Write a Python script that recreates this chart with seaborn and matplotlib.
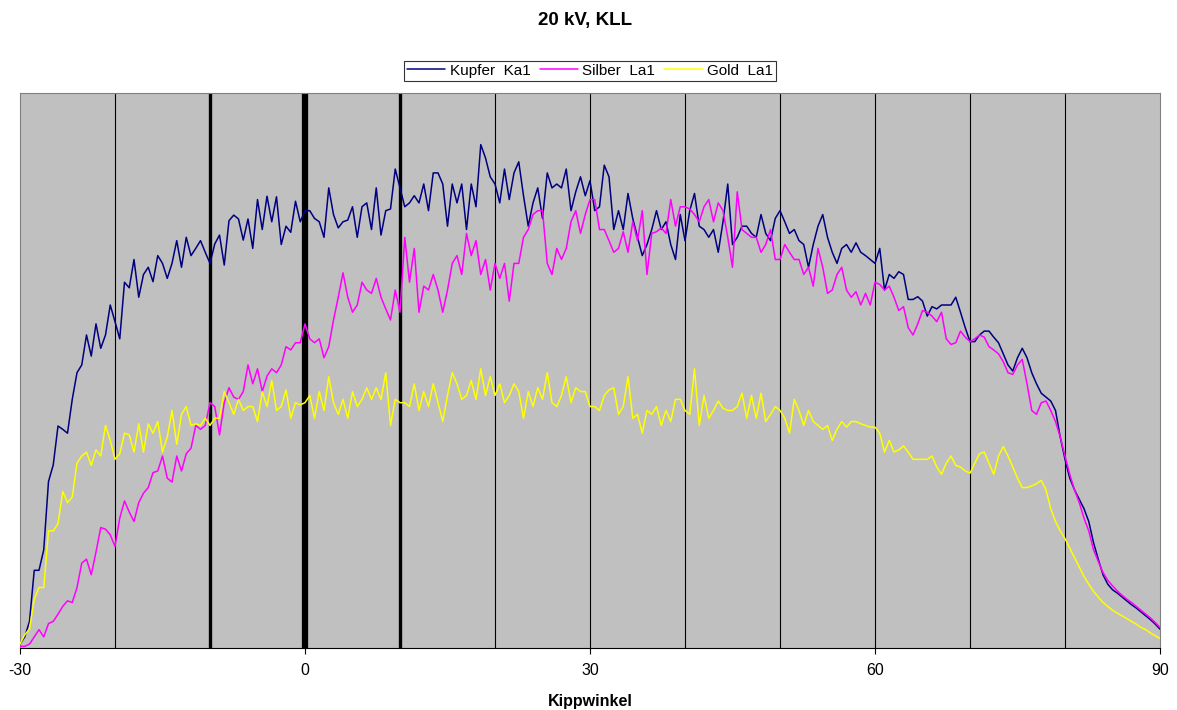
import numpy as np
import pandas as pd
import seaborn as sns
import matplotlib.pyplot as plt

# tilt angle grid, 0.5 degree steps
winkel = np.arange(-30, 90.5, 0.5)

kupfer = [
    0.7, 2, 4.8, 14, 14, 17.7, 30, 33, 40, 39.4,
    38.7, 44.8, 49.6, 51, 56.4, 52.6, 58.4, 54, 56.4, 61.8,
    58.8, 55.7, 65.9, 64.9, 70, 63.2, 67.3, 68.6, 66, 70.7,
    69.3, 66.6, 69.3, 73.4, 68.6, 74, 70.7, 72, 73.4, 71.3,
    69.3, 72.8, 74.4, 69, 77, 78, 77.3, 73.5, 77.3, 72,
    80.8, 75.4, 81.4, 76.8, 81.3, 72.7, 76, 74.9, 80.5, 76.8,
    78.8, 78.8, 77.4, 76.8, 74, 82.9, 78.1, 75.7, 76.8, 77.1,
    79.5, 74, 79.5, 80.2, 75.4, 82.9, 74.4, 78.8, 79.1, 86.3,
    82.9, 79.5, 80.2, 81.5, 80.2, 83.6, 78.8, 85.6, 85.6, 83.6,
    76, 83.6, 80.2, 83.6, 75.4, 83.6, 79.5, 90.7, 88.3, 84.9,
    83.6, 80.2, 86.3, 80.8, 85.6, 87.6, 81.5, 76, 80.2, 82.9,
    77.4, 85.6, 82.9, 83.6, 82.9, 86.3, 78.8, 82.2, 84.9, 81.5,
    84.2, 78.8, 79.5, 87, 84.9, 75.4, 78.8, 75.4, 81.9, 77.4,
    74, 70.7, 72.7, 75.4, 78.8, 75.4, 76.8, 72.7, 70, 78.1,
    73.4, 78.8, 81.9, 76, 75.4, 74, 75.4, 71.3, 76.8, 83.6,
    72.7, 74, 76, 76, 74.7, 74, 78.1, 74.7, 73.4, 77.4,
    78.8, 76.8, 74.7, 75.4, 73.4, 72.7, 68.6, 72.7, 76, 78.1,
    74, 71.3, 69.3, 72, 72.7, 71.3, 73, 71.3, 70.7, 70,
    69.3, 72, 64.5, 67.3, 66.6, 67.8, 67.3, 62.8, 62.8, 63.3,
    62.5, 59.8, 61.5, 61.1, 61.8, 61.8, 61.8, 63.2, 60.5, 57.7,
    55.2, 55.2, 56.4, 57.1, 57.1, 56, 55, 53, 51, 49.9,
    52.3, 54, 52.3, 49.6, 47.6, 45.9, 45.2, 44.5, 42.8, 38,
    34, 30.6, 28.5, 26.8, 25.1, 22.8, 19, 16, 13.2, 11.5,
    10.5, 9.9, 9.2, 8.5, 7.8, 7.2, 6.5, 5.8, 5.1, 4.3,
    3.4,
]

silber = [
    0.3, 0.3, 0.7, 2, 3.3, 2, 4.4, 4.8, 6.1, 7.5,
    8.5, 8.2, 10.9, 15.3, 16, 13.2, 17.3, 21.7, 21.4, 20.4,
    18.3, 23.4, 26.5, 24.5, 22.8, 26.2, 27.9, 28.9, 31.6, 31.9,
    34.6, 30.6, 29.9, 34.6, 31.9, 35, 36, 40.1, 39.4, 40.1,
    44.2, 43.5, 38.4, 44.2, 46.9, 45.2, 44.8, 46.2, 51, 47.6,
    50.3, 46.2, 49, 50.3, 49.6, 51, 54.3, 53.7, 55, 55,
    58.4, 55.7, 55, 55.7, 52.3, 54.3, 59.1, 63.2, 67.6, 63.2,
    60.5, 61.8, 65.9, 64.5, 63.9, 66.6, 63.2, 61.1, 59.1, 64.5,
    60.5, 74, 65.9, 72, 60.5, 65.2, 64.5, 67.3, 64.5, 60.5,
    64.5, 69.3, 70.7, 67.3, 74.7, 70.7, 73.4, 67.3, 70, 64.5,
    69.3, 66.6, 69.3, 62.5, 69.3, 69.3, 74, 75.4, 78.1, 78.8,
    78.8, 69.3, 67.3, 72, 70, 72, 76.8, 78.8, 74.7, 78.1,
    80.8, 80.8, 75.4, 75.4, 73.4, 71.3, 72, 75, 71.3, 76.8,
    73.4, 78.8, 67.3, 74.7, 75, 75.7, 74.7, 80.8, 76, 79.5,
    79.5, 79.1, 78.1, 76.8, 79.5, 80.8, 76.8, 80.2, 78.8, 74,
    68.6, 82.2, 75.4, 74.7, 74, 74, 71.3, 72.7, 75.4, 70,
    70, 72.7, 71.3, 70, 70, 67.3, 68.6, 65.2, 72, 68.6,
    63.9, 64.5, 67.3, 68.6, 64.5, 63.2, 64.2, 61.8, 63.9, 61.8,
    65.9, 65.5, 64.5, 65.2, 63.2, 60.8, 61.5, 57.7, 56.4, 58.4,
    60.8, 60.5, 59.8, 58.8, 60.5, 55.7, 54.7, 55, 57.1, 56,
    55.2, 55.7, 56.4, 56, 54.3, 53.7, 53, 51.6, 49.6, 49.3,
    51, 52, 47.6, 42.8, 42.1, 44.2, 44.5, 42.8, 40.8, 38,
    34.6, 31.3, 28.5, 26.2, 23.4, 21.1, 17.7, 15.6, 13.6, 12.2,
    11.2, 10.3, 9.5, 8.8, 8.2, 7.5, 6.8, 6.1, 5.4, 4.6,
    3.7,
]

gold = [
    0.7, 2.4, 3.4, 8.8, 10.9, 10.9, 21.1, 21.1, 22.4, 28.2,
    26.2, 27.2, 33.3, 34.6, 35.3, 32.9, 35.7, 34.6, 40.1, 37.4,
    34, 35, 38.7, 38.4, 35.3, 40.4, 35.3, 40.4, 38.7, 40.8,
    35.3, 38, 42.8, 36.7, 42.1, 43.5, 40.1, 40.4, 40.1, 41.4,
    40.1, 41.4, 41.4, 46.2, 44.2, 42.1, 44.8, 42.8, 43.5, 43.5,
    40.8, 46.2, 43.5, 48.2, 42.8, 43.5, 46.5, 41.4, 44.2, 43.8,
    44.2, 45.5, 41.4, 46.2, 42.8, 48.9, 44.2, 42.1, 44.8, 41.4,
    46.2, 43.5, 44.8, 46.9, 44.8, 46.9, 44.8, 49.6, 40.1, 44.8,
    44.2, 44.2, 43.5, 47.6, 42.8, 46.2, 43.5, 47.6, 44.2, 40.8,
    45.5, 49.6, 47.6, 44.8, 45.5, 48.2, 44.8, 50.3, 45.5, 48.9,
    45.5, 47.6, 44.2, 45.5, 47.6, 46.2, 41.4, 46.2, 43.5, 46.9,
    44.8, 49.6, 44.2, 43.5, 45.5, 48.9, 44.2, 46.9, 46.2, 46.2,
    43.5, 43.5, 42.8, 45.5, 46.5, 46.9, 42.1, 43.5, 48.9, 41.4,
    42.1, 38.7, 42.8, 42.1, 43.5, 40.1, 42.8, 40.8, 44.8, 44.8,
    42.8, 42.1, 50.3, 40.1, 45.5, 41.4, 42.8, 44.5, 43.2, 42.8,
    42.8, 43.5, 45.9, 41.4, 45.5, 41.4, 45.9, 40.8, 42.1, 43.5,
    42.8, 41.4, 38.7, 44.8, 42.8, 40.1, 42.8, 40.8, 40.1, 39.4,
    40.1, 37.4, 39.4, 40.8, 39.8, 40.8, 40.8, 40.4, 40.1, 39.8,
    39.8, 38.7, 35.3, 37.4, 35.3, 35.7, 36.4, 35.3, 34, 34,
    34, 34, 34.6, 32.6, 31.3, 33.3, 34.6, 32.9, 32.6, 31.9,
    31.5, 33.3, 35, 35.3, 33.3, 31.3, 34.6, 36.3, 34.6, 32.6,
    30.6, 28.9, 28.9, 29.2, 29.6, 30.2, 28.5, 25.1, 22.8, 21.1,
    19.7, 18, 16.3, 14.6, 12.9, 11.5, 10.2, 9.2, 8.2, 7.5,
    6.8, 6.3, 5.8, 5.3, 4.8, 4.3, 3.7, 3.3, 2.7, 2.2,
    1.7,
]

labels = ['Kupfer  Ka1', 'Silber  La1', 'Gold  La1']
farben = {'Kupfer  Ka1': '#000080', 'Silber  La1': '#FF00FF', 'Gold  La1': '#FFFF00'}

df = pd.concat([
    pd.DataFrame({'Kippwinkel': winkel, 'Intensitaet': werte, 'Linie': name})
    for name, werte in zip(labels, [kupfer, silber, gold])
])

sns.set_style('white')
plt.rcParams['font.family'] = ['Liberation Sans', 'DejaVu Sans']
plt.rcParams['axes.unicode_minus'] = False
plt.rcParams['text.color'] = 'black'
plt.rcParams['axes.labelcolor'] = 'black'
plt.rcParams['xtick.color'] = 'black'

fig = plt.figure(figsize=(11.77, 7.10), dpi=100)
ax = fig.add_axes([20 / 1177, 62 / 710, 1140 / 1177, 555 / 710])
ax.set_facecolor('#C0C0C0')

# vertical grid, the -10 / 0 / 10 lines are drawn heavier
for g in range(-20, 90, 10):
    lw = {-10: 2.4, 0: 4.5, 10: 2.4}.get(g, 0.8)
    ax.axvline(g, color='black', lw=lw, zorder=1)

sns.lineplot(data=df, x='Kippwinkel', y='Intensitaet', hue='Linie',
             palette=farben, linewidth=1.1, ax=ax, zorder=3)

ax.set_xlim(-30, 90)
ax.set_ylim(0, 100)
ax.set_yticks([])
ax.set_ylabel('')
ax.set_xticks([-30, 0, 30, 60, 90])
ax.tick_params(axis='x', direction='out', length=4, width=0.8, color='black',
               labelcolor='black', labelsize=11.5, pad=7, bottom=True)
ax.set_xlabel('Kippwinkel', fontsize=11.5, fontweight='bold', labelpad=11)
for s in ['top', 'right', 'left']:
    ax.spines[s].set_color('#808080')
ax.spines['bottom'].set_color('black')

leg = ax.legend(loc='lower center', bbox_to_anchor=(0.5, 1.022), ncol=3,
                frameon=True, fancybox=False, edgecolor='black', fontsize=11,
                handlelength=2.5, handletextpad=0.3, columnspacing=0.6,
                borderpad=0.2, borderaxespad=0)
leg.get_frame().set_linewidth(0.8)
for t in leg.get_texts():
    t.set_color('black')

fig.text(0.497, 1 - 20 / 710, '20 kV, KLL', ha='center', va='center',
         fontsize=13.5, fontweight='bold', color='black')

fig.savefig('out.png', dpi=100)
